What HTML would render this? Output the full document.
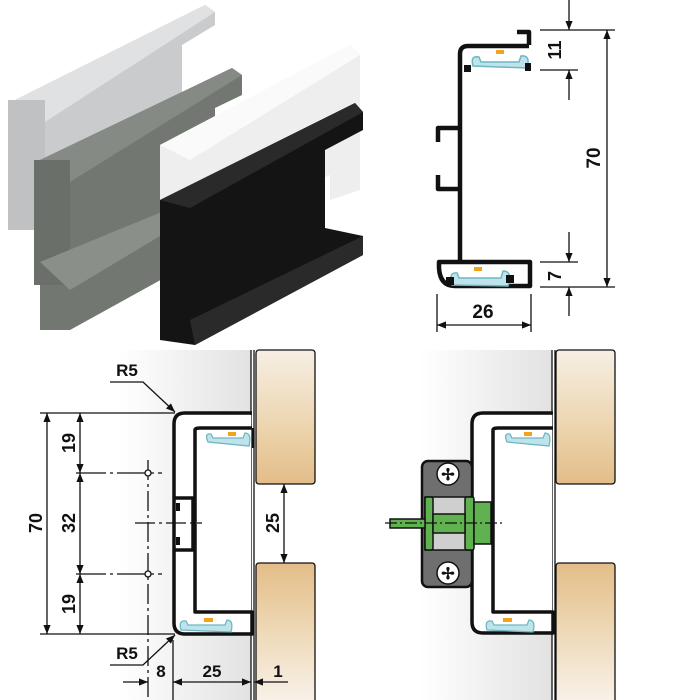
<!DOCTYPE html>
<html><head><style>
html,body{margin:0;padding:0;background:#fff;}
svg{display:block;}
text{font-family:"Liberation Sans Narrow","Liberation Sans",sans-serif;font-weight:bold;fill:#111;}
</style></head><body>
<svg width="700" height="700" viewBox="0 0 700 700" xmlns="http://www.w3.org/2000/svg">
<defs>
<linearGradient id="bg" x1="0" x2="1" y1="0" y2="0"><stop offset="0" stop-color="#fff"/><stop offset="1" stop-color="#e2e2e2"/></linearGradient>
<linearGradient id="wood" x1="0" x2="0" y1="0" y2="1"><stop offset="0" stop-color="#f6efe4"/><stop offset="0.6" stop-color="#ecd3ac"/><stop offset="1" stop-color="#e3bd88"/></linearGradient>
<linearGradient id="wood2" x1="0" x2="0" y1="0" y2="1"><stop offset="0" stop-color="#e3bd88"/><stop offset="0.5" stop-color="#efd9b8"/><stop offset="1" stop-color="#f8f2ea"/></linearGradient>
<marker id="a" viewBox="0 0 10 10" refX="10" refY="5" markerWidth="9" markerHeight="9" orient="auto-start-reverse" markerUnits="userSpaceOnUse"><path d="M0,1 L10,5 L0,9 Z" fill="#111"/></marker>
</defs>

<!-- 3D profiles -->
<polygon points="15,100 205,5 215,12 215,25 182,45 182,175 45,225 13,225" fill="#c9cbcd"/>
<polygon points="15,100 205,5 215,12 45,122" fill="#dfe1e2"/>
<rect x="8" y="100" width="37" height="130" fill="#bfc1c3"/>
<polygon points="40,160 232,68 242,75 242,95 215,108 215,250 70,330 40,330" fill="#727772"/>
<polygon points="40,160 232,68 242,75 70,182" fill="#858a84"/>
<rect x="34" y="160" width="36" height="125" fill="#6a6f6a"/>
<polygon points="40,262 215,190 220,200 70,290" fill="#8a8f89"/>
<polygon points="160,145 350,45 360,55 360,190 330,200 330,175 190,240 160,240" fill="#eeeeee"/>
<polygon points="160,145 350,45 360,55 190,160" fill="#fafafa"/>
<polygon points="160,200 355,103 363,112 363,130 325,150 325,228 363,236 363,255 195,345 160,340" fill="#141414"/>
<polygon points="160,200 355,103 363,112 190,208" fill="#2a2a2a"/>
<polygon points="190,320 363,236 363,255 195,345" fill="#2a2a2a"/>

<!-- top-right profile -->
<g fill="none" stroke="#111" stroke-width="4.5" stroke-linejoin="round">
<path d="M517,32 H529 V45"/>
<path d="M529,46 H468 Q460,46 460,54 V262"/>
<path d="M460,262 H530 V286 H455 Q440,286 439,268 V262 H460"/>
<path d="M458,128 H438 V142"/>
<path d="M458,189 H438 V175"/>
</g>
<path d="M473,66 Q470,55 479,57 L481,62 H519 L521,56 Q531,55 527,68 Z" fill="#bfe3ea" stroke="#6fb6c3" stroke-width="1.5"/>
<rect x="496" y="50" width="8" height="4" fill="#f2a31e"/>
<path d="M452,285 Q448,272 457,273 L459,278 H501 L503,271 Q513,271 508,286 Z" fill="#bfe3ea" stroke="#6fb6c3" stroke-width="1.5"/>
<rect x="474" y="267" width="8" height="4" fill="#f2a31e"/>
<rect x="464" y="65" width="7" height="7" fill="#111"/><rect x="525" y="63" width="6" height="8" fill="#111"/>
<rect x="446" y="277" width="8" height="8" fill="#111"/><rect x="506" y="275" width="8" height="8" fill="#111"/>
<g stroke="#111" stroke-width="1.3" fill="none">
<line x1="540" y1="30" x2="615" y2="30"/><line x1="540" y1="287" x2="615" y2="287"/>
<line x1="540" y1="70" x2="578" y2="70"/><line x1="540" y1="262" x2="578" y2="262"/>
<line x1="607" y1="30" x2="607" y2="287" marker-start="url(#a)" marker-end="url(#a)"/>
<line x1="569" y1="0" x2="569" y2="30" marker-end="url(#a)"/>
<line x1="569" y1="100" x2="569" y2="70" marker-end="url(#a)"/>
<line x1="569" y1="232" x2="569" y2="262" marker-end="url(#a)"/>
<line x1="569" y1="316" x2="569" y2="287" marker-end="url(#a)"/>
<line x1="437" y1="294" x2="437" y2="332"/><line x1="531" y1="294" x2="531" y2="332"/>
<line x1="437" y1="325" x2="531" y2="325" marker-start="url(#a)" marker-end="url(#a)"/>
</g>
<text x="483" y="318" font-size="19" text-anchor="middle">26</text>
<text transform="translate(600,158) rotate(-90)" font-size="19" text-anchor="middle">70</text>
<text transform="translate(561,50) rotate(-90)" font-size="18" text-anchor="middle">11</text>
<text transform="translate(561,276) rotate(-90)" font-size="18" text-anchor="middle">7</text>

<!-- bottom-left -->
<rect x="120" y="350" width="131" height="350" fill="url(#bg)"/>
<rect x="256" y="350" width="59" height="134" rx="3" fill="url(#wood)" stroke="#111" stroke-width="1.3"/>
<rect x="256" y="563" width="59" height="140" rx="3" fill="url(#wood2)" stroke="#111" stroke-width="1.3"/>
<line x1="251" y1="350" x2="251" y2="700" stroke="#111" stroke-width="1.3"/>
<line x1="254" y1="350" x2="254" y2="700" stroke="#111" stroke-width="1.3"/>
<rect x="176" y="415" width="75" height="217" style="fill:#ffffff"/>
<g fill="none" stroke="#111" stroke-width="3.5" stroke-linejoin="round">
<path d="M252,413 H185 Q174,413 174,424 V623 Q174,634 185,634 H252 V612 H195 V430 Q195,428 200,428 H252"/>
<path d="M174,498 H193 V550 H174"/>
</g>
<rect x="176" y="503" width="4" height="8" fill="#111"/>
<rect x="176" y="537" width="4" height="8" fill="#111"/>
<rect x="252" y="428" width="2" height="20" fill="#111"/>
<path d="M208,442 Q204,433 211,434 L213,438 H243 L245,433 Q252,433 249,446 Z" fill="#bfe3ea" stroke="#6fb6c3" stroke-width="1.3"/>
<rect x="228" y="432" width="8" height="4" fill="#f2a31e"/>
<path d="M181,630 Q178,620 186,621 L188,625 H225 L227,620 Q234,620 231,632 Z" fill="#bfe3ea" stroke="#6fb6c3" stroke-width="1.3"/>
<rect x="204" y="618" width="9" height="4" fill="#f2a31e"/>
<g stroke="#111" stroke-width="1.3" fill="none">
<line x1="40" y1="413" x2="175" y2="413"/><line x1="40" y1="634" x2="175" y2="634"/>
<line x1="47" y1="413" x2="47" y2="634" marker-start="url(#a)" marker-end="url(#a)"/>
<line x1="80" y1="413" x2="80" y2="473" marker-start="url(#a)" marker-end="url(#a)"/>
<line x1="80" y1="473" x2="80" y2="574" marker-start="url(#a)" marker-end="url(#a)"/>
<line x1="80" y1="574" x2="80" y2="634" marker-start="url(#a)" marker-end="url(#a)"/>
<line x1="76" y1="473" x2="162" y2="473" stroke-dasharray="30,4,3,4"/>
<line x1="76" y1="574" x2="162" y2="574" stroke-dasharray="30,4,3,4"/>
<line x1="148" y1="460" x2="148" y2="700" stroke-dasharray="20,4,3,4"/>
<line x1="135" y1="523" x2="202" y2="523" stroke-dasharray="20,4,3,4"/>
<circle cx="148" cy="473" r="3" fill="#fff"/><circle cx="148" cy="574" r="3" fill="#fff"/>
<line x1="284" y1="484" x2="284" y2="563" marker-start="url(#a)" marker-end="url(#a)"/>
<line x1="173" y1="640" x2="173" y2="700"/>
<line x1="123" y1="682" x2="148" y2="682" marker-end="url(#a)"/>
<line x1="173" y1="682" x2="251" y2="682" marker-start="url(#a)" marker-end="url(#a)"/>
<line x1="288" y1="682" x2="254" y2="682" marker-end="url(#a)"/>
<polyline points="110,382 143,382 175,412" marker-end="url(#a)"/>
<polyline points="110,665 143,665 175,635" marker-end="url(#a)"/>
</g>
<text x="127" y="376" font-size="17" text-anchor="middle">R5</text>
<text x="127" y="659" font-size="17" text-anchor="middle">R5</text>
<text x="161" y="677" font-size="17" text-anchor="middle">8</text>
<text x="212" y="677" font-size="17" text-anchor="middle">25</text>
<text x="278" y="677" font-size="17" text-anchor="middle">1</text>
<text transform="translate(42,523) rotate(-90)" font-size="18" text-anchor="middle">70</text>
<text transform="translate(75,443) rotate(-90)" font-size="18" text-anchor="middle">19</text>
<text transform="translate(75,523) rotate(-90)" font-size="18" text-anchor="middle">32</text>
<text transform="translate(75,604) rotate(-90)" font-size="18" text-anchor="middle">19</text>
<text transform="translate(279,523) rotate(-90)" font-size="18" text-anchor="middle">25</text>

<!-- bottom-right -->
<rect x="420" y="350" width="132" height="350" fill="url(#bg)"/>
<rect x="556" y="350" width="59" height="134" rx="3" fill="url(#wood)" stroke="#111" stroke-width="1.3"/>
<rect x="556" y="563" width="59" height="140" rx="3" fill="url(#wood2)" stroke="#111" stroke-width="1.3"/>
<line x1="552" y1="350" x2="552" y2="700" stroke="#111" stroke-width="1.3"/>
<line x1="555" y1="350" x2="555" y2="700" stroke="#111" stroke-width="1.3"/>
<rect x="474" y="415" width="78" height="216" style="fill:#ffffff"/>
<g fill="none" stroke="#111" stroke-width="3.5" stroke-linejoin="round">
<path d="M553,413 H483 Q472,413 472,424 V622 Q472,633 483,633 H553 V612 H493 V430 Q493,428 498,428 H553"/>
</g>
<path d="M507,442 Q503,433 510,434 L512,438 H543 L545,433 Q552,433 549,446 Z" fill="#bfe3ea" stroke="#6fb6c3" stroke-width="1.3"/>
<rect x="524" y="432" width="8" height="4" fill="#f2a31e"/>
<path d="M487,630 Q484,620 492,621 L494,625 H527 L529,620 Q536,620 533,632 Z" fill="#bfe3ea" stroke="#6fb6c3" stroke-width="1.3"/>
<rect x="503" y="618" width="9" height="4" fill="#f2a31e"/>
<rect x="422" y="461" width="50" height="126" rx="6" fill="#6f6f6f" stroke="#111" stroke-width="2.5"/>
<circle cx="448" cy="474" r="11" fill="#fff" stroke="#111" stroke-width="1.5"/>
<circle cx="448" cy="573" r="11" fill="#fff" stroke="#111" stroke-width="1.5"/>
<text x="448" y="480" font-size="16" text-anchor="middle">✢</text>
<text x="448" y="579" font-size="16" text-anchor="middle">✢</text>
<rect x="425" y="497" width="48" height="53" fill="#cfcfcf" stroke="#111" stroke-width="1.5"/>
<rect x="425" y="497" width="8" height="53" rx="2" fill="#5fb24f" stroke="#111" stroke-width="1.5"/>
<rect x="465" y="497" width="9" height="53" rx="2" fill="#5fb24f" stroke="#111" stroke-width="1.5"/>
<rect x="433" y="514" width="32" height="19" fill="#5fb24f" stroke="#111" stroke-width="1.5"/>
<rect x="474" y="502" width="17" height="42" fill="#5fb24f" stroke="#111" stroke-width="1.5"/>
<rect x="390" y="519" width="35" height="9" fill="#5fb24f" stroke="#111" stroke-width="1.5"/>
<line x1="385" y1="523" x2="502" y2="523" stroke="#111" stroke-width="1.2" stroke-dasharray="12,3,2,3"/>
</svg>
</body></html>
